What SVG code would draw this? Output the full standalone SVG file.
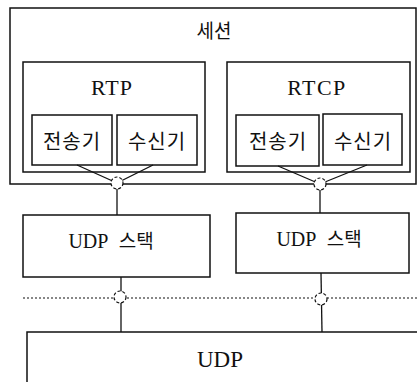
<svg xmlns="http://www.w3.org/2000/svg" width="417" height="382" viewBox="0 0 417 382">
<style>
.box{fill:#fff;stroke:#111;stroke-width:1.5}
.t{font-family:"Liberation Serif","Noto Sans CJK KR",serif;fill:#111;text-anchor:middle}
.k{font-family:"Noto Sans CJK KR","Liberation Serif",serif;fill:#111;text-anchor:middle}
.ln{stroke:#111;stroke-width:1.3;fill:none}
.c{fill:#fff;stroke:#111;stroke-width:1.2;stroke-dasharray:3 2}
</style>
<rect width="417" height="382" fill="#fff"/>
<g id="session"><rect class="box" x="10" y="8" width="406" height="176"/><text class="k" x="214" y="38" font-size="19">세션</text></g>
<g id="rtp"><rect class="box" x="23" y="62" width="182" height="110"/><text class="t" x="112" y="95" font-size="22" letter-spacing="1">RTP</text></g>
<g id="rtcp"><rect class="box" x="227" y="62" width="183" height="110"/><text class="t" x="317" y="95" font-size="22" letter-spacing="1.5">RTCP</text></g>
<g id="rtp-sender"><rect class="box" x="32" y="115" width="80" height="50"/><text class="k" x="72" y="149" font-size="20" letter-spacing="1">전송기</text></g>
<g id="rtp-receiver"><rect class="box" x="117" y="115" width="80" height="50"/><text class="k" x="157" y="149" font-size="20" letter-spacing="1">수신기</text></g>
<g id="rtcp-sender"><rect class="box" x="236" y="115" width="83" height="51"/><text class="k" x="278" y="149" font-size="20" letter-spacing="1">전송기</text></g>
<g id="rtcp-receiver"><rect class="box" x="323" y="114" width="79" height="51"/><text class="k" x="363" y="149" font-size="20" letter-spacing="1">수신기</text></g>
<g id="udp-stack-1"><rect class="box" x="23" y="215" width="187" height="62"/><text class="t" x="111" y="248" font-size="20">UDP <tspan class="k" dx="6" font-size="19">스택</tspan></text></g>
<g id="udp-stack-2"><rect class="box" x="236" y="213" width="173" height="60"/><text class="t" x="319" y="246" font-size="20">UDP <tspan class="k" dx="6" font-size="19">스택</tspan></text></g>
<g id="udp"><rect class="box" x="27" y="332" width="395" height="56"/><text class="t" x="220" y="367" font-size="23">UDP</text></g>
<g id="connectors">
<line class="ln" x1="77" y1="165" x2="117" y2="183"/>
<line class="ln" x1="153" y1="165" x2="117" y2="183"/>
<line class="ln" x1="278" y1="166" x2="320" y2="184"/>
<line class="ln" x1="367" y1="165" x2="320" y2="184"/>
<line class="ln" x1="117" y1="189" x2="117" y2="215"/>
<line class="ln" x1="320" y1="190" x2="320" y2="213"/>
<line class="ln" x1="121" y1="277" x2="121" y2="332"/>
<line class="ln" x1="321" y1="273" x2="322" y2="332"/>
<line x1="23" y1="298" x2="417" y2="298" stroke="#111" stroke-width="1.2" stroke-dasharray="2 2"/>
<circle class="c" cx="117" cy="183" r="6"/>
<circle class="c" cx="320" cy="184" r="6"/>
<circle class="c" cx="120" cy="297" r="6"/>
<circle class="c" cx="321" cy="299" r="6"/>
</g>
</svg>
